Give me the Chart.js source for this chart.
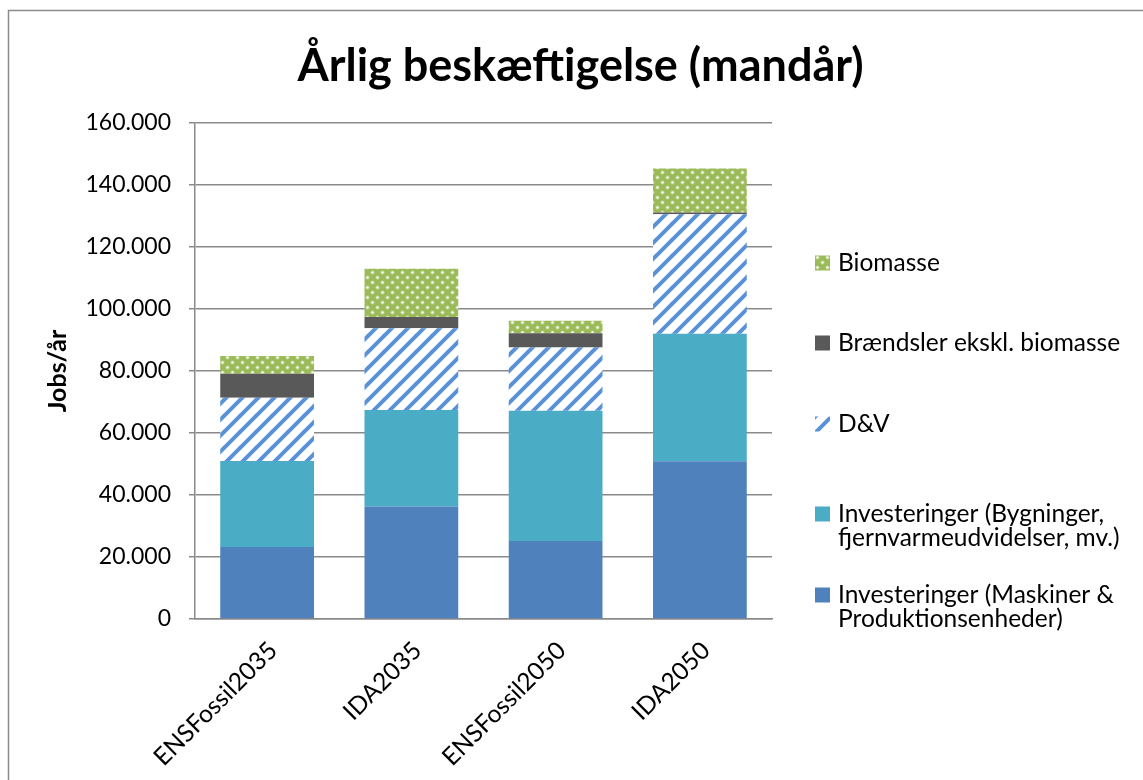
<!DOCTYPE html>
<html>
<head>
<meta charset="utf-8">
<script src="https://cdn.jsdelivr.net/npm/chart.js@4.4.1/dist/chart.umd.min.js"></script>
<style>
  html, body { margin: 0; padding: 0; background: #ffffff; }
  #wrap { width: 1143px; height: 780px; position: relative; }
</style>
</head>
<body>
<div id="wrap"><canvas id="chart" width="1143" height="780"></canvas></div>
<script>
// Scenarios and employment (jobs per year) by source
const categories = ['ENSFossil2035', 'IDA2035', 'ENSFossil2050', 'IDA2050'];
const maskiner   = [23200, 36300, 25200, 50900];
const bygninger  = [27800, 31100, 42000, 41100];
const dogv       = [20400, 26400, 20400, 38600];
const braendsler = [7700, 3600, 4600, 500];
const biomasse   = [5700, 15600, 4000, 14200];

const seriesLabels = [
  'Investeringer (Maskiner &\nProduktionsenheder)',
  'Investeringer (Bygninger,\nfjernvarmeudvidelser, mv.)',
  'D&V',
  'Brændsler ekskl. biomasse',
  'Biomasse'
];

const FONT = 'Lato, "Open Sans", sans-serif';

// Fill patterns: diagonal stripes and a dotted green
function stripePattern() {
  const s = 16;
  const c = document.createElement('canvas');
  c.width = s; c.height = s;
  const g = c.getContext('2d');
  g.fillStyle = '#ffffff';
  g.fillRect(0, 0, s, s);
  g.strokeStyle = '#5a92d9';
  g.lineWidth = 4;
  g.lineCap = 'square';
  for (const off of [-s, 0, s]) {
    g.beginPath();
    g.moveTo(off, s);
    g.lineTo(off + s, 0);
    g.stroke();
  }
  return g.createPattern(c, 'repeat');
}

function dotPattern() {
  const s = 10;
  const c = document.createElement('canvas');
  c.width = s; c.height = s;
  const g = c.getContext('2d');
  g.fillStyle = '#9bbb59';
  g.fillRect(0, 0, s, s);
  for (const [x, y] of [[2.5, 2.5], [7.5, 7.5]]) {
    g.fillStyle = 'rgba(255,255,255,0.4)';
    g.beginPath(); g.arc(x, y, 2.0, 0, Math.PI * 2); g.fill();
    g.fillStyle = 'rgba(255,255,255,0.95)';
    g.beginPath(); g.arc(x, y, 1.1, 0, Math.PI * 2); g.fill();
  }
  return g.createPattern(c, 'repeat');
}

const fills = [
  '#4f81bd',
  '#4bacc6',
  stripePattern(),
  '#595959',
  dotPattern()
];

const seriesValues = [maskiner, bygninger, dogv, braendsler, biomasse];

function thousands(v) {
  return String(v).replace(/\B(?=(\d{3})+(?!\d))/g, '.');
}

// Outer frame of the chart
const framePlugin = {
  id: 'frame',
  beforeDraw(chart) {
    const ctx = chart.ctx;
    ctx.save();
    ctx.fillStyle = '#ffffff';
    ctx.fillRect(0, 0, chart.width, chart.height);
    ctx.strokeStyle = '#8a8a8a';
    ctx.lineWidth = 1.5;
    ctx.strokeRect(8.5, 10.5, chart.width + 20, chart.height + 20);
    ctx.restore();
  }
};

// Legend at the right, top item = last series, labels may wrap onto two lines
const sideLegend = {
  id: 'sideLegend',
  afterDraw(chart, args, opts) {
    const ctx = chart.ctx;
    const ds = chart.data.datasets.slice().reverse();
    ctx.save();
    ctx.font = opts.fontSize + 'px ' + FONT;
    ctx.textBaseline = 'middle';
    ctx.textAlign = 'left';
    ds.forEach((d, i) => {
      const y = opts.rows[i];
      ctx.fillStyle = d.backgroundColor;
      ctx.fillRect(opts.boxX, y - opts.box / 2, opts.box, opts.box);
      ctx.fillStyle = '#000000';
      d.label.split('\n').forEach((line, k) => {
        ctx.fillText(line, opts.textX, y + k * opts.lineGap);
      });
    });
    ctx.restore();
  }
};

const ctx = document.getElementById('chart').getContext('2d');
new Chart(ctx, {
  type: 'bar',
  data: {
    labels: categories,
    datasets: seriesValues.map((vals, i) => ({
      label: seriesLabels[i],
      data: vals,
      backgroundColor: fills[i],
      borderWidth: 0,
      categoryPercentage: 1.0,
      barPercentage: 0.65
    }))
  },
  options: {
    responsive: false,
    animation: false,
    devicePixelRatio: 1,
    layout: { padding: { left: 18, right: 0, top: 10, bottom: 0 } },
    plugins: {
      legend: { display: false },
      tooltip: { enabled: false },
      title: {
        display: true,
        text: 'Årlig beskæftigelse (mandår)',
        color: '#000000',
        font: { family: FONT, size: 45, weight: 'bold' },
        padding: { top: 29, bottom: 30 }
      },
      sideLegend: {
        rows: [263, 343, 424, 514, 595],
        boxX: 815, box: 15, textX: 838, lineGap: 24, fontSize: 24.5
      }
    },
    scales: {
      x: {
        stacked: true,
        grid: { display: false, drawTicks: false },
        border: { display: true, color: '#8a8a8a', width: 1.5 },
        ticks: {
          color: '#000000',
          font: { family: FONT, size: 24.5 },
          minRotation: 45, maxRotation: 45,
          labelOffset: 6,
          padding: 17
        },
        afterFit(scale) { scale.height = 161; }
      },
      y: {
        stacked: true,
        min: 0, max: 160000,
        grid: { color: '#8a8a8a', lineWidth: 1.5, tickLength: 6, drawTicks: true },
        border: { display: true, color: '#8a8a8a', width: 1.5 },
        ticks: {
          stepSize: 20000,
          color: '#000000',
          font: { family: FONT, size: 23 },
          padding: 18,
          callback: (v) => thousands(v)
        },
        title: {
          display: true,
          text: 'Jobs/år',
          color: '#000000',
          font: { family: FONT, size: 25, weight: 'bold' },
          padding: { top: 25, bottom: 0 }
        },
        afterFit(scale) { scale.width = 177; }
      },
      // empty scale on the right that reserves room for the legend
      legendSpace: {
        type: 'linear',
        position: 'right',
        min: 0, max: 1,
        grid: { display: false, drawTicks: false },
        border: { display: false },
        ticks: { display: false },
        afterFit(scale) { scale.width = 371; }
      }
    }
  },
  plugins: [framePlugin, sideLegend]
});
</script>
</body>
</html>
